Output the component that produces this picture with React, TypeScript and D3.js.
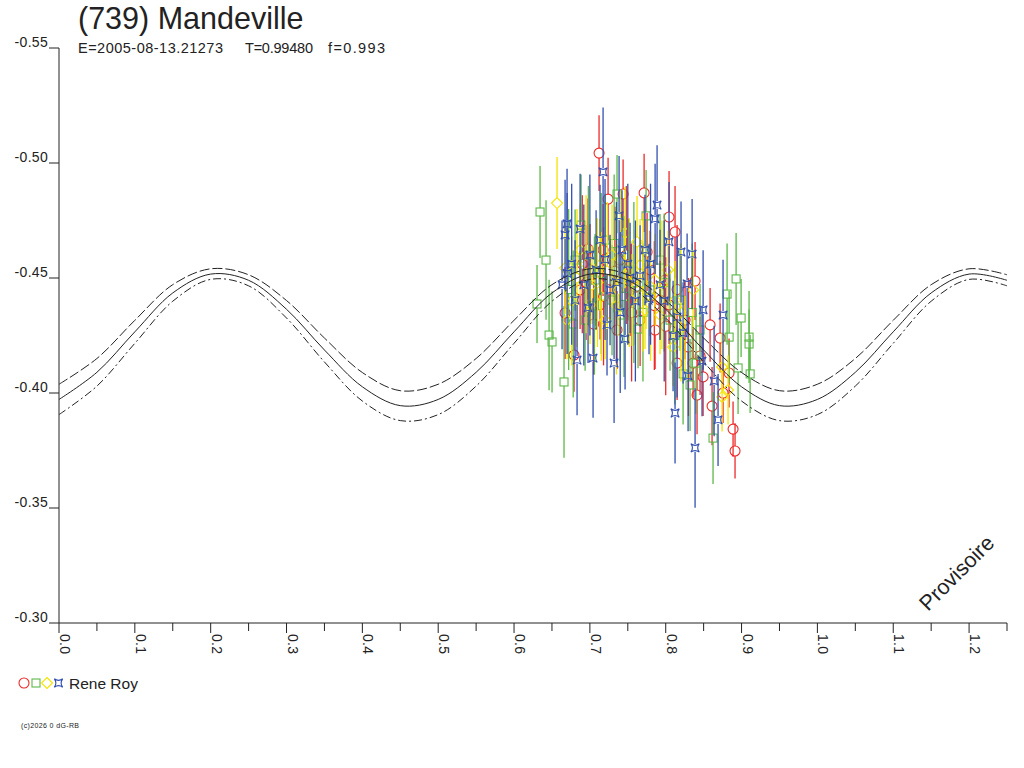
import React from 'react';
import * as d3 from 'd3';

// phase / reduced magnitude / error
type Obs = [number, number, number];

const redPoints: Obs[] = [
  [0.7121, -0.5043, 0.0165], [0.724, -0.4843, 0.018], [0.7438, -0.4865, 0.015],
  [0.7715, -0.487, 0.017], [0.8044, -0.4765, 0.02], [0.8123, -0.47, 0.02],
  [0.6976, -0.4626, 0.022], [0.7174, -0.4622, 0.02], [0.7754, -0.4613, 0.017],
  [0.8387, -0.4487, 0.017], [0.6791, -0.4165, 0.016], [0.7358, -0.4274, 0.017],
  [0.6673, -0.4348, 0.02], [0.8044, -0.4383, 0.017], [0.8585, -0.4296, 0.016],
  [0.8717, -0.4239, 0.015], [0.8453, -0.4161, 0.017], [0.815, -0.413, 0.016],
  [0.8361, -0.413, 0.015], [0.8493, -0.407, 0.017], [0.8835, -0.4087, 0.015],
  [0.8413, -0.3991, 0.017], [0.8611, -0.3943, 0.017], [0.8756, -0.4, 0.013],
  [0.8888, -0.3843, 0.012], [0.8914, -0.3748, 0.012],
  [0.7002, -0.4535, 0.02], [0.7266, -0.4491, 0.017], [0.753, -0.4448, 0.02],
  [0.7925, -0.4404, 0.017], [0.7662, -0.4317, 0.02], [0.7134, -0.4383, 0.015],
  [0.7793, -0.4535, 0.017], [0.7398, -0.4578, 0.017], [0.6871, -0.4448, 0.017],
  [0.7991, -0.4491, 0.016], [0.8255, -0.4317, 0.017], [0.786, -0.4274, 0.017],
  [0.695, -0.448, 0.025], [0.718, -0.442, 0.03], [0.733, -0.453, 0.028],
  [0.748, -0.46, 0.03], [0.76, -0.446, 0.025], [0.785, -0.438, 0.028],
  [0.8, -0.429, 0.03], [0.815, -0.445, 0.028], [0.705, -0.43, 0.022],
  [0.755, -0.435, 0.03], [0.83, -0.42, 0.03], [0.69, -0.456, 0.03],
];

const greenPoints: Obs[] = [
  [0.6343, -0.4787, 0.02], [0.6422, -0.4578, 0.026], [0.6303, -0.4387, 0.017],
  [0.6462, -0.4252, 0.024], [0.6501, -0.4222, 0.022], [0.6659, -0.4048, 0.033],
  [0.6884, -0.473, 0.022], [0.7358, -0.4865, 0.017], [0.7741, -0.477, 0.02],
  [0.7635, -0.4278, 0.017], [0.8928, -0.4496, 0.02], [0.8809, -0.443, 0.022],
  [0.8994, -0.4326, 0.017], [0.8836, -0.4243, 0.02], [0.9099, -0.4243, 0.02],
  [0.9099, -0.4213, 0.015], [0.9113, -0.4083, 0.017], [0.8954, -0.4109, 0.02],
  [0.8624, -0.3804, 0.02], [0.8229, -0.4083, 0.022], [0.84, -0.413, 0.022],
  [0.8321, -0.4035, 0.02],
  [0.6805, -0.4578, 0.022], [0.7068, -0.4491, 0.02], [0.7292, -0.4404, 0.024],
  [0.7503, -0.4535, 0.022], [0.7793, -0.4448, 0.02], [0.8057, -0.4317, 0.022],
  [0.6937, -0.4317, 0.022], [0.72, -0.4665, 0.02], [0.7925, -0.4578, 0.02],
  [0.8189, -0.4404, 0.022], [0.7398, -0.4339, 0.02], [0.8453, -0.4274, 0.02],
  [0.672, -0.445, 0.035], [0.698, -0.46, 0.03], [0.715, -0.452, 0.035],
  [0.732, -0.465, 0.03], [0.758, -0.448, 0.035], [0.77, -0.435, 0.03],
  [0.798, -0.448, 0.03], [0.812, -0.425, 0.03], [0.678, -0.43, 0.032],
  [0.745, -0.442, 0.035], [0.835, -0.435, 0.03], [0.706, -0.438, 0.03],
];

const yellowPoints: Obs[] = [
  [0.6567, -0.4826, 0.02], [0.6673, -0.4543, 0.02], [0.6699, -0.4317, 0.017],
  [0.7464, -0.4696, 0.02], [0.7622, -0.4657, 0.02], [0.7741, -0.4448, 0.017],
  [0.8361, -0.4448, 0.017], [0.8097, -0.42, 0.017], [0.8822, -0.4013, 0.015],
  [0.8743, -0.3983, 0.015], [0.8743, -0.4113, 0.015],
  [0.6871, -0.4622, 0.02], [0.7029, -0.447, 0.017], [0.7134, -0.4557, 0.02],
  [0.7292, -0.46, 0.022], [0.7371, -0.4448, 0.02], [0.7556, -0.4404, 0.02],
  [0.7662, -0.4557, 0.02], [0.786, -0.4491, 0.02], [0.7925, -0.4339, 0.017],
  [0.8123, -0.4404, 0.017], [0.72, -0.4317, 0.017], [0.7002, -0.4383, 0.017],
  [0.7464, -0.4513, 0.02], [0.7727, -0.4361, 0.017], [0.8031, -0.4535, 0.017],
  [0.8255, -0.4252, 0.017],
  [0.683, -0.45, 0.03], [0.695, -0.456, 0.03], [0.71, -0.448, 0.028],
  [0.723, -0.453, 0.03], [0.74, -0.458, 0.03], [0.752, -0.448, 0.028],
  [0.77, -0.448, 0.03], [0.78, -0.442, 0.028], [0.795, -0.447, 0.028],
  [0.735, -0.438, 0.03], [0.715, -0.442, 0.028], [0.676, -0.44, 0.028],
  [0.82, -0.435, 0.03],
];

const bluePoints: Obs[] = [
  [0.7174, -0.4961, 0.028], [0.7385, -0.477, 0.026], [0.6699, -0.4735, 0.024],
  [0.6673, -0.4687, 0.024], [0.6871, -0.4713, 0.024], [0.7886, -0.4817, 0.026],
  [0.786, -0.4757, 0.024], [0.8044, -0.4657, 0.026], [0.8202, -0.4613, 0.022],
  [0.8348, -0.4604, 0.024], [0.8282, -0.4474, 0.022], [0.6633, -0.447, 0.028],
  [0.6831, -0.4143, 0.024], [0.7042, -0.4152, 0.026], [0.7319, -0.413, 0.026],
  [0.7464, -0.4235, 0.022], [0.7226, -0.4296, 0.022], [0.6976, -0.437, 0.024],
  [0.753, -0.45, 0.024], [0.7662, -0.4509, 0.022], [0.8493, -0.4361, 0.026],
  [0.8756, -0.4339, 0.024], [0.8097, -0.4248, 0.024], [0.8229, -0.4261, 0.022],
  [0.8295, -0.4074, 0.024], [0.8638, -0.4052, 0.024], [0.869, -0.3883, 0.02],
  [0.8123, -0.3913, 0.022], [0.8387, -0.3761, 0.026], [0.778, -0.4409, 0.024],
  [0.8479, -0.4139, 0.024],
  [0.7082, -0.4535, 0.026], [0.7266, -0.4448, 0.024], [0.7424, -0.4622, 0.026],
  [0.7727, -0.4622, 0.024], [0.7925, -0.447, 0.024], [0.7134, -0.4665, 0.024],
  [0.6805, -0.4404, 0.026],
  [0.676, -0.456, 0.035], [0.692, -0.447, 0.035], [0.7, -0.46, 0.035],
  [0.72, -0.458, 0.035], [0.735, -0.448, 0.035], [0.75, -0.456, 0.035],
  [0.76, -0.44, 0.035], [0.78, -0.456, 0.035], [0.798, -0.44, 0.035],
  [0.815, -0.433, 0.035], [0.74, -0.435, 0.035], [0.67, -0.452, 0.035],
];

// fitted lightcurve and its uncertainty band
const modelPhase = [
  0, 0.05, 0.1, 0.15, 0.2, 0.25, 0.3, 0.35, 0.4, 0.45, 0.5, 0.55, 0.6,
  0.65, 0.7, 0.75, 0.8, 0.85, 0.9, 0.95, 1.0, 1.05, 1.1, 1.15, 1.2, 1.25,
];
const modelMag = [
  -0.3972, -0.409, -0.4266, -0.4435, -0.4517, -0.449, -0.4364, -0.4187, -0.4027, -0.3945,
  -0.3972, -0.409, -0.4266, -0.4435, -0.4517, -0.449, -0.4364, -0.4187, -0.4027, -0.3945,
  -0.3972, -0.409, -0.4266, -0.4435, -0.4517, -0.449,
];
const modelBand = [
  0.0066, 0.006, 0.005, 0.0036, 0.0023, 0.0024, 0.0038, 0.0052, 0.0062, 0.0065,
  0.0066, 0.006, 0.005, 0.0036, 0.0023, 0.0024, 0.0038, 0.0052, 0.0062, 0.0065,
  0.0066, 0.006, 0.005, 0.0036, 0.0023, 0.0024,
];

const yTicks = [-0.55, -0.5, -0.45, -0.4, -0.35, -0.3];
const xMajor = d3.range(0, 13).map(i => i / 10);
const xMinor = d3.range(0, 13).map(i => i / 10 + 0.05);

const RED = '#ec2a2a';
const GREEN = '#5cb848';
const YELLOW = '#f4e400';
const BLUE = '#3250b0';
const INK = '#222';
const FONT = '"Liberation Sans", Arial, sans-serif';

const x = d3.scaleLinear().domain([0, 1.25]).range([59, 1007]);
const y = d3.scaleLinear().domain([-0.55, -0.3]).range([48, 623]);

type Shape = 'circle' | 'square' | 'diamond' | 'star';

const marker = (shape: Shape, cx: number, cy: number, color: string) => {
  const common = { stroke: color, fill: 'none', strokeWidth: 1.1 };
  if (shape === 'circle') return <circle cx={cx} cy={cy} r={5} {...common} />;
  if (shape === 'square') return <rect x={cx - 4} y={cy - 4} width={8} height={8} {...common} />;
  if (shape === 'diamond') {
    const s = 5.5;
    return <path d={`M${cx},${cy - s}L${cx + s},${cy}L${cx},${cy + s}L${cx - s},${cy}Z`} {...common} />;
  }
  const s = 4.2;
  const k = s * 0.25;
  return (
    <path
      d={`M${cx - s},${cy - s}Q${cx},${cy - k} ${cx + s},${cy - s}Q${cx + k},${cy} ${cx + s},${cy + s}Q${cx},${cy + k} ${cx - s},${cy + s}Q${cx - k},${cy} ${cx - s},${cy - s}Z`}
      {...common}
    />
  );
};

const halfSize: Record<Shape, number> = { circle: 5, square: 4, diamond: 5.5, star: 4 };

const series: { name: string; pts: Obs[]; shape: Shape; color: string }[] = [
  { name: 'red', pts: redPoints, shape: 'circle', color: RED },
  { name: 'green', pts: greenPoints, shape: 'square', color: GREEN },
  { name: 'yellow', pts: yellowPoints, shape: 'diamond', color: YELLOW },
  { name: 'blue', pts: bluePoints, shape: 'star', color: BLUE },
];

const App: React.FC = () => {
  const line = d3
    .line<[number, number]>()
    .x(d => x(d[0]))
    .y(d => y(d[1]))
    .curve(d3.curveCatmullRom.alpha(0.5));

  const mid = line(modelPhase.map((p, i) => [p, modelMag[i]]) as [number, number][]) || '';
  const upper = line(modelPhase.map((p, i) => [p, modelMag[i] - modelBand[i]]) as [number, number][]) || '';
  const lower = line(modelPhase.map((p, i) => [p, modelMag[i] + modelBand[i]]) as [number, number][]) || '';

  return (
    <svg
      width={1024}
      height={768}
      style={{ position: 'absolute', left: 0, top: 0, background: '#fff' }}
      fontFamily={FONT}
    >
      {/* title */}
      <text x={78} y={29} fontSize={30.5} fill={INK}>(739) Mandeville</text>
      <g fontSize={14.5} fill={INK}>
        <text x={78} y={53} textLength={145}>E=2005-08-13.21273</text>
        <text x={245} y={53} textLength={68}>T=0.99480</text>
        <text x={328} y={53} textLength={57}>f=0.993</text>
      </g>

      {/* observations */}
      {series.map(s => (
        <g key={s.name}>
          {s.pts.map((d, i) => {
            const cx = x(d[0]);
            const cy = y(d[1]);
            const h = halfSize[s.shape];
            return (
              <g key={i}>
                <line x1={cx} x2={cx} y1={y(d[1] - d[2])} y2={cy - h} stroke={s.color} strokeWidth={1.3} />
                <line x1={cx} x2={cx} y1={cy + h} y2={y(d[1] + d[2])} stroke={s.color} strokeWidth={1.3} />
                {marker(s.shape, cx, cy, s.color)}
              </g>
            );
          })}
        </g>
      ))}

      {/* model curves */}
      <g fill="none" stroke={INK} strokeWidth={1}>
        <path d={mid} />
        <path d={upper} strokeDasharray="10,3" />
        <path d={lower} strokeDasharray="8,3,2,3" />
      </g>

      {/* y axis */}
      <line x1={59} x2={59} y1={y(-0.55)} y2={y(-0.3)} stroke={INK} />
      {yTicks.map(t => (
        <g key={t}>
          <line x1={49} x2={59} y1={y(t)} y2={y(t)} stroke={INK} />
          <text x={48} y={y(t) - 1} textAnchor="end" fontSize={14} fill={INK} letterSpacing={0.3}>
            {t.toFixed(2)}
          </text>
        </g>
      ))}

      {/* x axis */}
      <line x1={x(0)} x2={x(1.25)} y1={623} y2={623} stroke={INK} />
      {xMinor.map(t => (
        <line key={'m' + t} x1={x(t)} x2={x(t)} y1={623} y2={631} stroke={INK} />
      ))}
      {xMajor.map(t => (
        <g key={t}>
          <line x1={x(t)} x2={x(t)} y1={623} y2={633} stroke={INK} />
          <text
            transform={`translate(${x(t) + 1},${634}) rotate(90)`}
            fontSize={14}
            fill={INK}
            letterSpacing={0.3}
          >
            {t.toFixed(1)}
          </text>
        </g>
      ))}

      {/* watermark */}
      <text transform="translate(928,612) rotate(-45)" fontSize={21.5} fill={INK}>Provisoire</text>

      {/* legend */}
      {marker('circle', 24, 683, RED)}
      {marker('square', 36, 683, GREEN)}
      {marker('diamond', 47, 683, YELLOW)}
      {marker('star', 58.5, 683, BLUE)}
      <text x={69} y={689} fontSize={15.5} fill={INK}>Rene Roy</text>

      <text x={21} y={728} fontSize={7} fill={INK} textLength={58}>(c)2026 0 dG-RB</text>
    </svg>
  );
};

export default App;
